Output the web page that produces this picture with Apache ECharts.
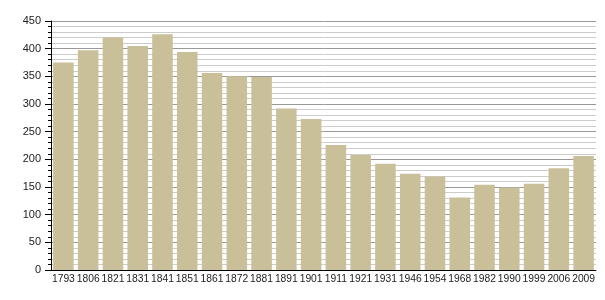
<!DOCTYPE html>
<html><head><meta charset="utf-8">
<script src="https://cdn.jsdelivr.net/npm/echarts@6/dist/echarts.min.js"></script>
<style>html,body{margin:0;padding:0;background:#fff}#c{width:605px;height:300px}</style>
</head><body><div id="c"></div>
<script>
const years = ["1793","1806","1821","1831","1841","1851","1861","1872","1881","1891","1901","1911","1921","1931","1946","1954","1968","1982","1990","1999","2006","2009"];
const population = [375,397,420,405,426,394,356,350,349,292,273,226,208,192,174,169,131,154,149,156,184,206];
const yTicks = [0,50,100,150,200,250,300,350,400,450];

const chart = echarts.init(document.getElementById('c'), null, {renderer:'canvas'});
chart.setOption({
  animation:false,
  grid:{left:51,right:9,top:21,bottom:30},
  xAxis:{
    type:'category', data:years,
    axisLine:{lineStyle:{color:'#000',width:1}},
    axisTick:{show:false},
    axisLabel:{color:'#222',fontSize:10.3,fontFamily:'Liberation Sans, Arial, sans-serif',margin:4,interval:0}
  },
  yAxis:{
    type:'value', min:yTicks[0], max:yTicks[yTicks.length-1], interval:50,
    axisLine:{show:true,lineStyle:{color:'#000',width:1}},
    axisTick:{show:true,length:6,lineStyle:{color:'#000'}},
    minorTick:{show:true,splitNumber:5,length:3,lineStyle:{color:'#000'}},
    splitLine:{show:true,lineStyle:{color:'#999',width:1}},
    minorSplitLine:{show:true,lineStyle:{color:'#ccc',width:1}},
    axisLabel:{color:'#222',fontSize:11,fontFamily:'Liberation Sans, Arial, sans-serif',margin:10}
  },
  series:[{
    type:'bar', data:population, barCategoryGap:'17%',
    itemStyle:{color:'#c9c09a'}
  }]
});
</script></body></html>
